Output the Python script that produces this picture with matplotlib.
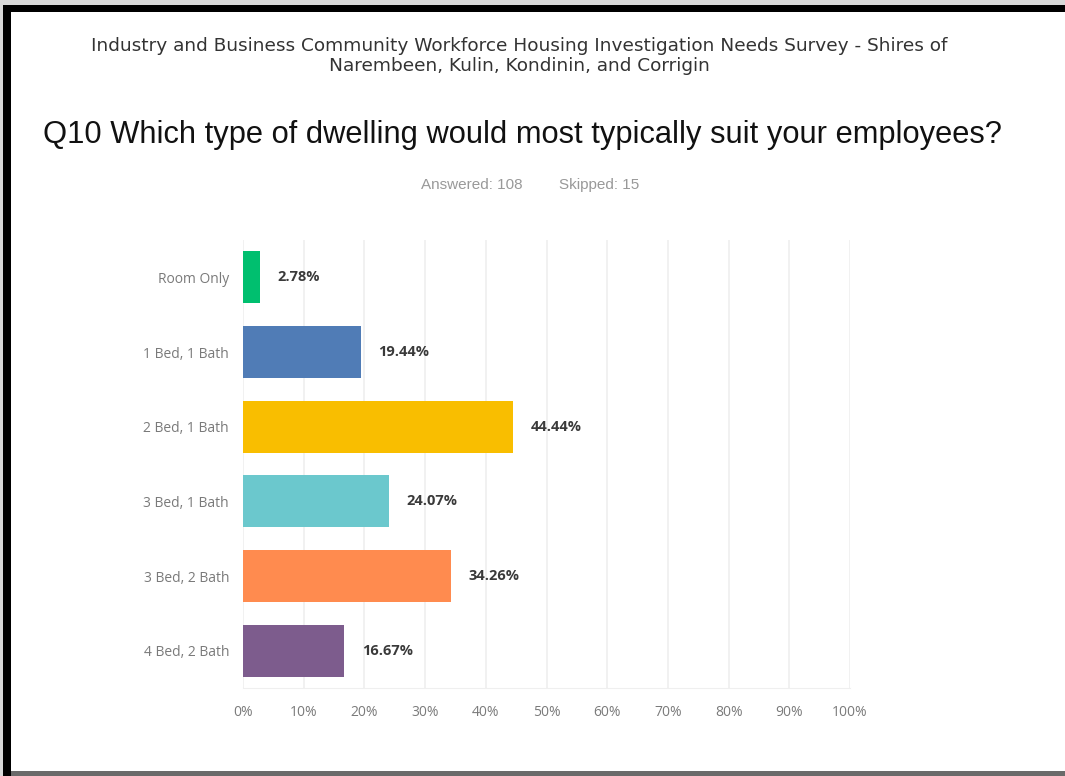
import matplotlib
matplotlib.use('Agg')
from matplotlib import pyplot as plt
from matplotlib.patches import Rectangle

# survey results, Q10
categories = ['Room Only', '1 Bed, 1 Bath', '2 Bed, 1 Bath',
              '3 Bed, 1 Bath', '3 Bed, 2 Bath', '4 Bed, 2 Bath']
percents = [2.78, 19.44, 44.44, 24.07, 34.26, 16.67]
bar_colors = ['#00BF6F', '#507CB6', '#F9BE00', '#6BC8CD', '#FF8B4F', '#7D5C8D']
x_ticks = [0, 10, 20, 30, 40, 50, 60, 70, 80, 90, 100]

header = ('Industry and Business Community Workforce Housing Investigation Needs Survey - Shires of\n'
          'Narembeen, Kulin, Kondinin, and Corrigin')
question = 'Q10 Which type of dwelling would most typically suit your employees?'
answered = 'Answered: 108'
skipped = 'Skipped: 15'

W, H = 1065, 776
fig = plt.figure(figsize=(W / 100, H / 100), dpi=100)
fig.patch.set_facecolor('white')

def px(x0, y0, x1, y1):
    # pixel box (top-left origin) -> figure fraction rect
    return [x0 / W, 1 - y1 / H, (x1 - x0) / W, (y1 - y0) / H]

# frame around the page
for box, col in [((0, 0, W, 5), '#d8d8d8'), ((0, 0, 3, H), '#d8d8d8'),
                 ((3, 5, W, 12), 'black'), ((3, 5, 11, H), 'black'),
                 ((11, 771, W, H), '#6a6a6a')]:
    r = px(*box)
    fig.patches.append(Rectangle((r[0], r[1]), r[2], r[3], transform=fig.transFigure,
                                 facecolor=col, edgecolor='none', zorder=0))

fig.text(519 / W, 1 - 56 / H, header, ha='center', va='center', fontsize=13.3,
         family='DejaVu Sans', color='#333333', linespacing=1.2)
fig.text(522 / W, 1 - 135 / H, question, ha='center', va='center', fontsize=22.2,
         family='Liberation Sans', color='#111111')
fig.text(472 / W, 1 - 185 / H, answered, ha='center', va='center', fontsize=11,
         family='Liberation Sans', color='#999999')
fig.text(599 / W, 1 - 185 / H, skipped, ha='center', va='center', fontsize=11,
         family='Liberation Sans', color='#999999')

ax = fig.add_axes(px(243, 240, 850, 688))
ypos = list(range(len(categories)))
ax.barh(ypos, percents, height=0.7, color=bar_colors, zorder=3)
for y, v in zip(ypos, percents):
    ax.text(v + 2.9, y, '%.2f%%' % v, va='center', ha='left', fontsize=10.5,
            fontweight='bold', family='Open Sans', color='#3a3a3a')

ax.set_xlim(0, 100)
ax.set_ylim(len(categories) - 0.5, -0.5)
ax.set_xticks(x_ticks)
ax.set_xticklabels(['%d%%' % t for t in x_ticks])
ax.set_yticks(ypos)
ax.set_yticklabels(categories)
ax.tick_params(length=0, labelsize=10, labelcolor='#7a7a7a')
ax.tick_params(axis='x', pad=12)
ax.tick_params(axis='y', pad=10)
for lab in ax.get_xticklabels() + ax.get_yticklabels():
    lab.set_family('Open Sans')
ax.grid(axis='x', color='#efefef', linewidth=1.2, zorder=0)
for side in ['top', 'right', 'left']:
    ax.spines[side].set_visible(False)
ax.spines['bottom'].set_color('#efefef')

plt.savefig('out.png', dpi=100)
